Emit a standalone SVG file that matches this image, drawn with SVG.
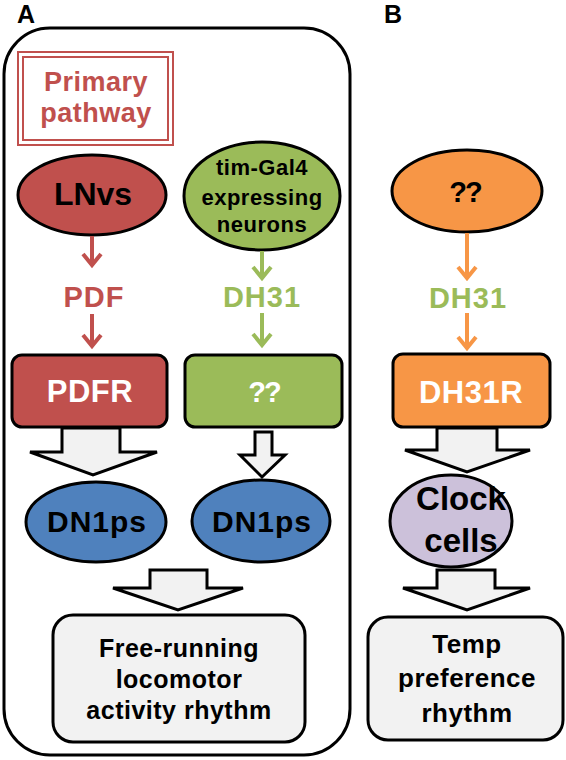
<svg xmlns="http://www.w3.org/2000/svg" width="566" height="760" viewBox="0 0 566 760">
<style>
text{font-family:"Liberation Sans",Arial,sans-serif;font-weight:bold;text-anchor:middle}
.node{stroke:#000;stroke-width:3}
.red{fill:#c0504d}.green{fill:#9bbb59}.orange{fill:#f79646}.blue{fill:#4f81bd}.purple{fill:#ccc1da}.grey{fill:#f2f2f2}
.blk{fill:#000}.wht{fill:#fff}
.thin{fill:none;stroke-width:4;stroke-linejoin:miter}
.block{fill:#f2f2f2;stroke:#000;stroke-width:3;stroke-linejoin:miter}
</style>
<rect width="566" height="760" fill="#fff"/>
<text x="26" y="23" font-size="25" class="blk">A</text>
<text x="393" y="23" font-size="25" class="blk">B</text>
<g id="panelA"><rect x="4" y="28" width="346" height="727" rx="46" fill="none" stroke="#000" stroke-width="3"/></g>
<g id="primary">
<rect x="18" y="52" width="155" height="93" fill="none" stroke="#c0504d" stroke-width="2"/>
<rect x="23" y="57" width="145" height="83" fill="none" stroke="#c0504d" stroke-width="2"/>
<text x="96" y="91" font-size="27" letter-spacing="0.5" fill="#c0504d">Primary</text>
<text x="96" y="122" font-size="27" letter-spacing="0.5" fill="#c0504d">pathway</text>
</g>
<g id="lnvs"><ellipse cx="92" cy="195" rx="74" ry="40" class="node red"/><text x="93" y="205" font-size="32" class="blk">LNvs</text></g>
<g id="timgal4"><ellipse cx="262" cy="196" rx="78" ry="54" class="node green"/>
<text x="262" y="175" font-size="22" letter-spacing="0.5" class="blk">tim-Gal4</text>
<text x="262" y="205" font-size="22" letter-spacing="0.5" class="blk">expressing</text>
<text x="262" y="232" font-size="22" letter-spacing="0.5" class="blk">neurons</text></g>
<g id="pdf"><text x="94" y="307" font-size="29" letter-spacing="1" fill="#c0504d">PDF</text></g>
<g id="dh31a"><text x="262" y="307" font-size="29" letter-spacing="1" fill="#9bbb59">DH31</text></g>
<g id="pdfr"><rect x="12" y="355" width="155" height="72" rx="10" class="node red"/><text x="90" y="402" font-size="31" letter-spacing="0.5" class="wht">PDFR</text></g>
<g id="unkA"><rect x="185" y="355" width="157" height="72" rx="10" class="node green"/><text x="264" y="402" font-size="29" letter-spacing="-2" class="wht">??</text></g>
<g id="dn1a"><ellipse cx="96" cy="522" rx="70" ry="40" class="node blue"/><text x="97" y="532" font-size="30" letter-spacing="1" class="blk">DN1ps</text></g>
<g id="dn1b"><ellipse cx="261" cy="521" rx="69" ry="41" class="node blue"/><text x="262" y="532" font-size="30" letter-spacing="1" class="blk">DN1ps</text></g>
<g id="freerun"><rect x="53" y="615" width="252" height="127" rx="20" class="node grey"/>
<text x="179" y="657" font-size="25" letter-spacing="0.5" class="blk">Free-running</text>
<text x="179" y="688" font-size="25" letter-spacing="0.5" class="blk">locomotor</text>
<text x="179" y="719" font-size="25" letter-spacing="0.5" class="blk">activity rhythm</text></g>
<g id="unkB"><ellipse cx="467" cy="191" rx="75" ry="41" class="node orange"/><text x="465" y="202" font-size="29" letter-spacing="-2" class="blk">??</text></g>
<g id="dh31b"><text x="468" y="308" font-size="29" letter-spacing="1" fill="#9bbb59">DH31</text></g>
<g id="dh31r"><rect x="393" y="354" width="157" height="73" rx="10" class="node orange"/><text x="471" y="403" font-size="31" letter-spacing="0.5" class="wht">DH31R</text></g>
<g id="clock"><ellipse cx="451" cy="521" rx="61" ry="46" class="node purple"/>
<text x="461" y="510" font-size="33" class="blk">Clock</text>
<text x="461" y="552" font-size="33" class="blk">cells</text></g>
<g id="temp"><rect x="368" y="617" width="195" height="123" rx="20" class="node grey"/>
<text x="467" y="653" font-size="26" letter-spacing="0.5" class="blk">Temp</text>
<text x="467" y="687" font-size="26" letter-spacing="0.5" class="blk">preference</text>
<text x="467" y="722" font-size="26" letter-spacing="0.5" class="blk">rhythm</text></g>
<g id="connectors">
<path class="thin" stroke="#c0504d" d="M92 236V264M83 254L92 265L101 254"/>
<path class="thin" stroke="#c0504d" d="M92 314V345M83 335L92 346L101 335"/>
<path class="thin" stroke="#9bbb59" d="M262 251V277M253 267L262 278L271 267"/>
<path class="thin" stroke="#9bbb59" d="M262 313V344M253 334L262 345L271 334"/>
<path class="thin" stroke="#f79646" d="M467 233V277M458 267L467 278L476 267"/>
<path class="thin" stroke="#f79646" d="M467 313V347M458 337L467 348L476 337"/>
<path class="block" d="M62 428V452H30L93 475L157 452H120V428Z"/>
<path class="block" d="M255 432V455H240L262 477L285 455H272V432Z"/>
<path class="block" d="M150 570V588H113L178 610L243 588H207V570Z"/>
<path class="block" d="M437 428V450H405L467 472L530 450H497V428Z"/>
<path class="block" d="M437 570V588H403L467 610L530 588H495V570Z"/>
</g>
</svg>
